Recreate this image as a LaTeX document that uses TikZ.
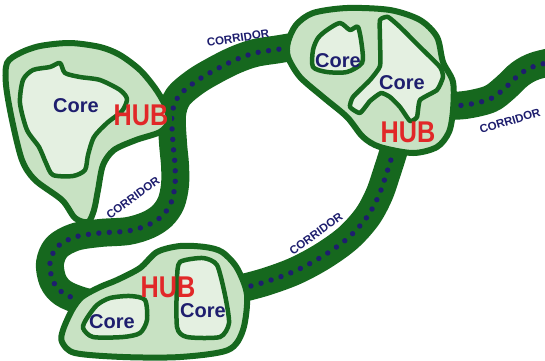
\documentclass[tikz,border=0pt]{standalone}
\usepackage{fontspec}
\setmainfont{Liberation Sans}
\usepackage{graphicx}
\definecolor{dg}{RGB}{22,104,30}
\definecolor{hubf}{RGB}{200,226,195}
\definecolor{coref}{RGB}{228,240,225}
\definecolor{navy}{RGB}{30,30,110}
\definecolor{hubred}{RGB}{225,40,40}
\tikzset{
 corridor/.style={draw=dg, line width=28pt, line cap=butt, line join=round},
 dotline/.style={draw=navy, line width=5.4pt, line cap=round, dash pattern=on 0pt off 10.5pt},
 hub/.style={draw=dg, fill=hubf, line width=6pt, line join=round},
 core/.style={draw=dg, fill=coref, line width=4.5pt, line join=round},
 corelbl/.style={text=navy, font=\bfseries\fontsize{20}{20}\selectfont, inner sep=0pt},
 hublbl/.style={text=hubred, font=\bfseries\fontsize{30}{30}\selectfont, inner sep=0pt},
 corrlbl/.style={text=navy, font=\bfseries\fontsize{11.5}{11.5}\selectfont, inner sep=0pt},
}
\begin{document}
\begin{tikzpicture}[x=1pt,y=-1pt]
\useasboundingbox (0,0) rectangle (545,360);
\clip (0,0) rectangle (545,360);
% corridors
\def\ringpath{plot[smooth, tension=0.55] coordinates {(310,44) (280,49) (255,53) (235,60) (215,70) (195,82) (178,97) (172,115) (173,143) (175,165) (175,185) (171,203) (162,216) (148,225) (128,231) (100,233) (75,237) (57,247) (50,263) (53,281) (63,293) (82,301) (105,306)}}
\def\lowpath{plot[smooth, tension=0.55] coordinates {(400,130) (394,150) (387,172) (379,195) (367,217) (348,238) (323,256) (295,271) (265,282) (235,290)}}
\def\rightpath{plot[smooth, tension=0.55] coordinates {(440,106) (465,105) (490,99) (505,88) (520,74) (535,66) (560,60)}}
\draw[corridor] \ringpath;
\draw[corridor] \lowpath;
\draw[corridor] \rightpath;
\draw[dotline] \ringpath;
\draw[dotline] \lowpath;
\draw[dotline] \rightpath;
% left hub
\draw[hub] plot[smooth cycle, tension=0.5] coordinates {(7,63) (20,53) (40,46) (70,43) (100,47) (120,55) (140,70) (155,88) (165,105) (169,121) (160,132) (136,140) (114,150) (103,165) (98,190) (94,210) (88,222) (75,218) (62,200) (35,180) (22,160) (12,120) (6,85)};
\draw[core] plot[smooth cycle, tension=0.45] coordinates {(23,80) (33,70) (50,67) (60,63) (65,73) (80,77) (100,80) (120,90) (127,99) (122,111) (107,123) (94,137) (88,155) (85,170) (73,176) (53,175) (46,163) (39,147) (27,130) (20,103)};
% top-right hub
\draw[hub] plot[smooth cycle, tension=0.5] coordinates {(288,42) (296,25) (313,13) (347,8) (390,10) (420,20) (437,37) (443,62) (453,82) (453,110) (449,132) (437,147) (413,153) (380,147) (363,137) (347,117) (323,97) (300,77) (288,57)};
\draw[core] plot[smooth cycle, tension=0.45] coordinates {(313,50) (318,38) (327,30) (340,23) (350,30) (358,27) (362,47) (362,63) (347,72) (327,72) (313,67)};
\draw[core] plot[smooth cycle, tension=0.3] coordinates {(380,20) (388,17) (400,27) (420,47) (440,67) (443,77) (437,90) (420,100) (417,117) (410,121) (400,107) (390,97) (381,93) (370,101) (360,113) (350,107) (353,97) (370,80) (380,66) (380,40)};
% bottom hub
\draw[hub] plot[smooth cycle, tension=0.5] coordinates {(63,330) (72,310) (82,297) (100,287) (117,280) (140,268) (157,252) (180,246) (205,247) (222,252) (237,268) (247,295) (243,330) (228,350) (180,357) (123,357) (75,353) (62,342)};
\draw[core] plot[smooth cycle, tension=0.45] coordinates {(87,318) (97,305) (110,298) (130,296) (145,300) (147,320) (140,333) (123,337) (93,337) (83,328)};
\draw[core] plot[smooth cycle, tension=0.4] coordinates {(180,262) (203,258) (217,265) (225,295) (229,323) (220,337) (187,337) (177,327) (177,280)};
% labels
\node[corelbl] (c1) at (76,106) {Core};
\node[hublbl] (h1) at (141,115) {\scalebox{0.84}[1]{HUB}};
\node[corelbl] (c2) at (338,61) {Core};
\node[corelbl] (c3) at (402,83) {Core};
\node[hublbl] (h2) at (408,132) {\scalebox{0.84}[1]{HUB}};
\node[hublbl] (h3) at (168,287) {\scalebox{0.84}[1]{HUB}};
\node[corelbl] (c4) at (112,322) {Core};
\node[corelbl] (c5) at (203,311) {Core};
\node[corrlbl, rotate=9] (l1) at (238,38) {CORRIDOR};
\node[corrlbl, rotate=17] (l2) at (510,121) {CORRIDOR};
\node[corrlbl, rotate=36] (l3) at (316,234) {CORRIDOR};
\node[corrlbl, rotate=36] (l4) at (133,198) {CORRIDOR};
\end{tikzpicture}
\end{document}
